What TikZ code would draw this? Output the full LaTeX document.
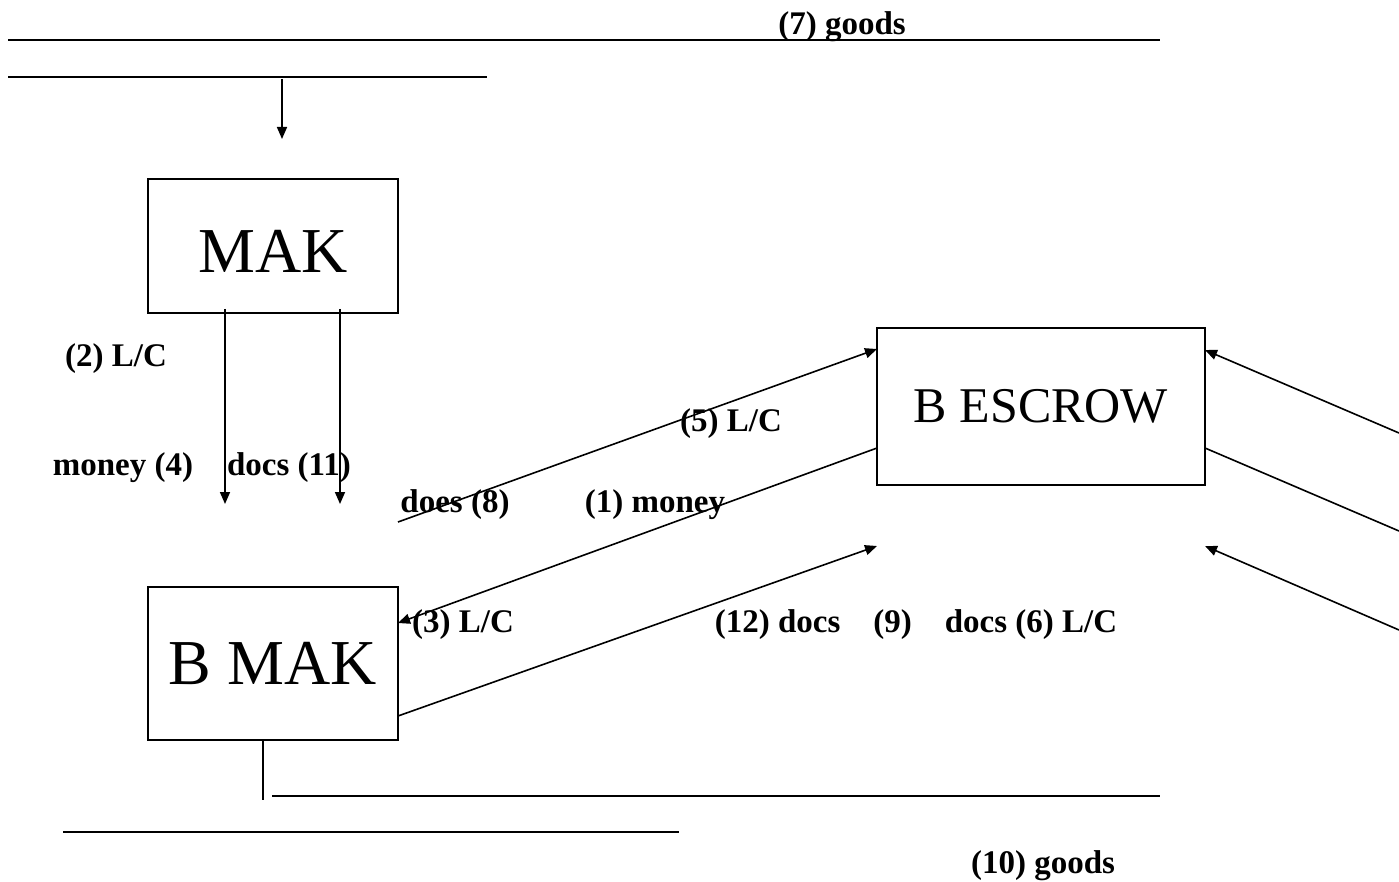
\documentclass[tikz,border=0pt]{standalone}
\usepackage{fontspec}
\setmainfont{Liberation Serif}
\usetikzlibrary{arrows.meta}
\begin{document}
\begin{tikzpicture}[x=1pt,y=-1pt,
  line/.style={line width=2pt},
  conn/.style={line width=1.6pt,-{Triangle[length=12pt,width=10pt]}},
  plain/.style={line width=1.6pt},
  box/.style={draw,line width=2.2pt,inner sep=0pt},
  big/.style={font=\fontsize{64}{70}\selectfont},
  mid/.style={font=\fontsize{50}{56}\selectfont},
  lab/.style={inner sep=0pt,font=\bfseries\fontsize{33}{38}\selectfont}]
\useasboundingbox (0,0) rectangle (1399,882);
% boxes
\node[box,big,minimum width=250pt,minimum height=134pt] (mak) at (273,246) {};
\node[big,inner sep=0pt] (makt) at (273,251) {MAK};
\node[box,mid,minimum width=328pt,minimum height=157pt] (besc) at (1041,406.5) {B ESCROW};
\node[box,big,minimum width=250pt,minimum height=153pt] (bmak) at (273,663.5) {B MAK};
% top lines
\coordinate (t1a) at (8,40); \coordinate (t1b) at (1160,40);
\draw[line] (t1a) -- (t1b);
\coordinate (t2a) at (8,77); \coordinate (t2b) at (487,77);
\draw[line] (t2a) -- (t2b);
\coordinate (d0a) at (282,79); \coordinate (d0b) at (282,139);
\draw[conn] (d0a) -- (d0b);
\node[lab] (l7) at (842,27) {(7) goods};
% arrows down from MAK
\coordinate (d1a) at (225,309); \coordinate (d1b) at (225,504);
\coordinate (d2a) at (340,309); \coordinate (d2b) at (340,504);
\draw[conn] (d1a) -- (d1b);
\draw[conn] (d2a) -- (d2b);
\node[lab] (l2) at (116,359) {(2) L/C};
\node[lab] (l4) at (123,468) {money (4)};
\node[lab] (l11) at (289,468) {docs (11)};
% diagonal arrows
\coordinate (a5a) at (398,522); \coordinate (a5b) at (877,349);
\draw[conn] (a5a) -- (a5b);
\coordinate (a1a) at (877,448); \coordinate (a1b) at (398,623);
\draw[conn] (a1a) -- (a1b);
\coordinate (a12a) at (398,716); \coordinate (a12b) at (877,546);
\draw[conn] (a12a) -- (a12b);
\node[lab] (l5) at (731,424) {(5) L/C};
\node[lab] (l8) at (455,505) {does (8)};
\node[lab] (l1) at (655,505) {(1) money};
\node[lab] (l3) at (463,625) {(3) L/C};
\node[lab] (l12) at (916,625) {(12) docs\hspace{33pt}(9)\hspace{33pt}docs (6) L/C};
% right-side arrows
\coordinate (r1a) at (1399,433); \coordinate (r1b) at (1205,350);
\draw[conn] (r1a) -- (r1b);
\coordinate (r2a) at (1205,448); \coordinate (r2b) at (1399,531);
\draw[plain] (r2a) -- (r2b);
\coordinate (r3a) at (1399,630); \coordinate (r3b) at (1205,546);
\draw[conn] (r3a) -- (r3b);
% bottom lines
\coordinate (v1a) at (263,740); \coordinate (v1b) at (263,800);
\draw[line] (v1a) -- (v1b);
\coordinate (b1a) at (272,796); \coordinate (b1b) at (1160,796);
\draw[line] (b1a) -- (b1b);
\coordinate (b2a) at (63,832); \coordinate (b2b) at (679,832);
\draw[line] (b2a) -- (b2b);
\node[lab] (l10) at (1043,866) {(10) goods};
\end{tikzpicture}
\end{document}
